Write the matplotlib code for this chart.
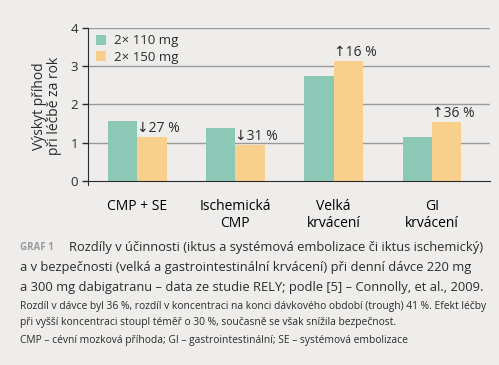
import matplotlib
matplotlib.use('Agg')
import matplotlib.pyplot as plt
import numpy as np

# data
categories = ['CMP + SE', 'Ischemická\nCMP', 'Velká\nkrvácení', 'GI\nkrvácení']
dose_110 = [1.57, 1.39, 2.75, 1.15]
dose_150 = [1.15, 0.94, 3.14, 1.54]
changes = ['\u219327 %', '\u219331 %', '\u219116 %', '\u219136 %']
series_labels = ['2\u00d7 110 mg', '2\u00d7 150 mg']
yticks = [0, 1, 2, 3, 4]

bg = '#eeedeb'
teal = '#8bc8b5'
orange = '#f9d08b'
dark = '#2b2b2b'

plt.rcParams['font.family'] = ['Open Sans', 'DejaVu Sans']

fig = plt.figure(figsize=(4.99, 3.65), dpi=100, facecolor=bg)
# 0 at y=181 px, 4 at y=28 px; axis starts a bit below 0
ax = fig.add_axes([88 / 499, 180.2 / 365, 402 / 499, 156.8 / 365], facecolor=bg)

x = np.arange(len(categories))
w = 0.3
ax.bar(x - w / 2, dose_110, w, color=teal, label=series_labels[0], zorder=3)
ax.bar(x + w / 2, dose_150, w, color=orange, label=series_labels[1], zorder=3)

for xi, v, t in zip(x, dose_150, changes):
    ax.text(xi, v + 0.02, t, ha='left', va='bottom', fontsize=10, color=dark)

ax.set_xlim(-0.5, 3.59)
ax.set_ylim(-0.1, 4)
ax.set_yticks(yticks)
ax.set_xticks(x)
ax.set_xticklabels(categories, fontsize=9.5, color=dark, linespacing=1.1)
ax.tick_params(axis='x', length=0, pad=13)
ax.tick_params(axis='y', length=4, width=1, colors=dark, labelsize=9.5, pad=3)
for y in yticks[1:]:
    ax.axhline(y, color='#9a9a9a', lw=1, zorder=1)

for s in ['top', 'right']:
    ax.spines[s].set_visible(False)
ax.spines['bottom'].set_position(('data', 0))
ax.spines['bottom'].set_color(dark)
ax.spines['left'].set_color(dark)
ax.spines['left'].set_zorder(4)
ax.spines['bottom'].set_zorder(4)

ax.set_ylabel('Výskyt příhod\npři léčbě za rok', fontsize=10, color=dark,
              labelpad=6, linespacing=1.0)

ax.legend(loc='upper left', bbox_to_anchor=(-0.01, 1.035), frameon=False,
          fontsize=9.5, handlelength=0.8, handleheight=0.8, handletextpad=0.6,
          labelspacing=0.25, labelcolor=dark)

# caption
fig.text(20 / 499, 1 - 248 / 365, 'GRAF 1', fontsize=7, color='#9a9a9a',
         fontweight='bold', va='center')
fig.text(69 / 499, 1 - 248 / 365,
         'Rozdíly v účinnosti (iktus a systémová embolizace či iktus ischemický)',
         fontsize=9.3, color=dark, va='center')
fig.text(20 / 499, 1 - 268 / 365,
         'a v bezpečnosti (velká a gastrointestinální krvácení) při denní dávce 220 mg',
         fontsize=9.3, color=dark, va='center')
fig.text(20 / 499, 1 - 288 / 365,
         'a 300 mg dabigatranu – data ze studie RELY; podle [5] – Connolly, et al., 2009.',
         fontsize=9.3, color=dark, va='center')
fig.text(20 / 499, 1 - 307 / 365,
         'Rozdíl v dávce byl 36 %, rozdíl v koncentraci na konci dávkového období (trough) 41 %. Efekt léčby',
         fontsize=7.4, color=dark, va='center')
fig.text(20 / 499, 1 - 323 / 365,
         'při vyšší koncentraci stoupl téměř o 30 %, současně se však snížila bezpečnost.',
         fontsize=7.4, color=dark, va='center')
fig.text(20 / 499, 1 - 341 / 365,
         'CMP – cévní mozková příhoda; GI – gastrointestinální; SE – systémová embolizace',
         fontsize=7.4, color=dark, va='center')

fig.savefig('out.png', dpi=100, facecolor=bg)
